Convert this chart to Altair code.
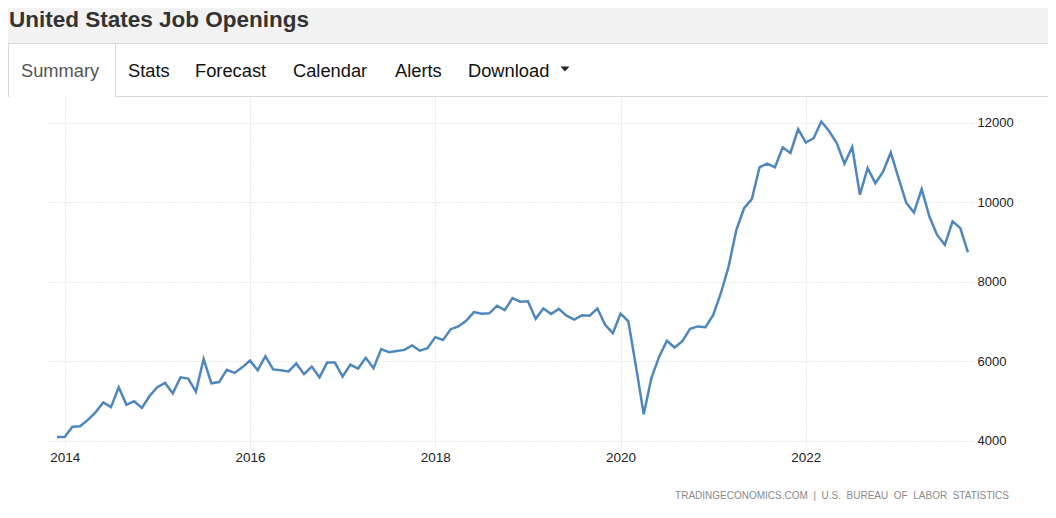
import altair as alt
import pandas as pd

title_text = "United States Job Openings"
tab_names = ["Summary", "Stats", "Forecast", "Calendar", "Alerts", "Download"]
source_words = ["TRADINGECONOMICS.COM", "|", "U.S.", "BUREAU", "OF", "LABOR", "STATISTICS"]

start_year = 2013
start_month = 12
openings_2013 = [4100]
openings_2014 = [4100, 4360, 4370, 4530, 4720, 4970, 4850, 5350, 4910, 5000, 4830, 5130]
openings_2015 = [5350, 5460, 5200, 5600, 5570, 5240, 6060, 5450, 5480, 5790, 5710, 5850]
openings_2016 = [6020, 5780, 6130, 5800, 5780, 5750, 5950, 5680, 5870, 5600, 5970, 5970]
openings_2017 = [5620, 5920, 5820, 6090, 5830, 6310, 6230, 6260, 6290, 6400, 6270, 6330]
openings_2018 = [6610, 6540, 6810, 6880, 7020, 7240, 7200, 7210, 7400, 7290, 7590, 7500]
openings_2019 = [7510, 7070, 7330, 7190, 7320, 7150, 7050, 7160, 7150, 7330, 6920, 6710]
openings_2020 = [7200, 7010, 5870, 4670, 5590, 6120, 6520, 6350, 6510, 6820, 6880, 6860]
openings_2021 = [7170, 7720, 8390, 9310, 9850, 10080, 10880, 10970, 10880, 11380, 11240, 11840]
openings_2022 = [11500, 11610, 12030, 11790, 11490, 10970, 11390, 10190, 10860, 10480, 10770, 11250]
openings_2023 = [10610, 9990, 9740, 10330, 9640, 9180, 8930, 9520, 9350, 8740]

x_ticks = [2014, 2016, 2018, 2020, 2022]
y_ticks = [4000, 6000, 8000, 10000, 12000]

values = (openings_2013 + openings_2014 + openings_2015 + openings_2016 + openings_2017
          + openings_2018 + openings_2019 + openings_2020 + openings_2021 + openings_2022
          + openings_2023)
rows = []
for i, v in enumerate(values):
    m = start_month - 1 + i
    year = start_year + m // 12
    month = m % 12 + 1
    rows.append({"t": year + (month - 1) / 12.0, "value": v})
df = pd.DataFrame(rows)

FONT = "Liberation Sans"
GRID = "#d0d0d0"

line = alt.Chart(df).mark_line(color="#4f87bd", strokeWidth=2.5).encode(
    x=alt.X("t:Q",
            scale=alt.Scale(domain=[2013.82, 2023.804], nice=False, zero=False),
            axis=alt.Axis(values=x_ticks, format="d", title=None, grid=True,
                          gridColor=GRID, gridDash=[1, 2], domain=False, ticks=False,
                          labelFont=FONT, labelFontSize=13.5, labelColor="#222222",
                          labelPadding=4)),
    y=alt.Y("value:Q",
            scale=alt.Scale(domain=[3874, 12646], nice=False, zero=False),
            axis=alt.Axis(orient="right", values=y_ticks, format="d", title=None,
                          grid=True, gridColor=GRID, gridDash=[1, 2], domain=False,
                          ticks=False, labelFont=FONT, labelFontSize=13,
                          labelColor="#222222", labelPadding=4)),
)

base = alt.Chart(pd.DataFrame({"k": [0]}))

title_bar = base.mark_rect(color="#f2f2f2").encode(
    x=alt.value(-40), x2=alt.value(1000), y=alt.value(-89), y2=alt.value(-54))
title_border = base.mark_rule(color="#d8d8d8", strokeWidth=1).encode(
    x=alt.value(-40), x2=alt.value(1000), y=alt.value(-53.5))
tab_bottom = base.mark_rule(color="#d8d8d8", strokeWidth=1).encode(
    x=alt.value(67), x2=alt.value(1000), y=alt.value(-0.5))
tab_left = base.mark_rule(color="#d8d8d8", strokeWidth=1).encode(
    x=alt.value(-39.5), y=alt.value(-54), y2=alt.value(0))
tab_right = base.mark_rule(color="#d8d8d8", strokeWidth=1).encode(
    x=alt.value(67.5), y=alt.value(-54), y2=alt.value(0))

title = base.mark_text(text=title_text, align="left", baseline="alphabetic", font=FONT,
                       fontSize=22.5, fontWeight="bold", color="#333333").encode(
    x=alt.value(-39), y=alt.value(-70))

tab_x = [-27, 80, 147, 245, 347, 420]
tab_layers = []
for name, xv in zip(tab_names, tab_x):
    tab_layers.append(
        base.mark_text(text=name, align="left", baseline="alphabetic", font=FONT,
                       fontSize=18.3, color="#555555" if name == "Summary" else "#111111").encode(
            x=alt.value(xv), y=alt.value(-20.5)))

caret = base.mark_point(shape="M-1,-0.55L1,-0.55L0,0.55Z", filled=True, color="#222222",
                        size=81, opacity=1, strokeWidth=0).encode(
    x=alt.value(517), y=alt.value(-28))

source_text = "\u00a0\u00a0".join(source_words)
source = base.mark_text(text=source_text, align="right", baseline="alphabetic", font=FONT,
                        fontSize=10, color="#8a8a8a").encode(
    x=alt.value(961), y=alt.value(402))

chart = alt.layer(
    title_bar, title_border, tab_bottom, tab_left, tab_right, title, *tab_layers, caret,
    line, source
).properties(
    width=925, height=349,
    autosize=alt.AutoSizeParams(type="none"),
    padding={"left": 40, "top": 89, "right": 75, "bottom": 58},
    background="white",
).configure_view(stroke=None)

chart.save("out.html", embed_options={"renderer": "svg", "actions": False})
